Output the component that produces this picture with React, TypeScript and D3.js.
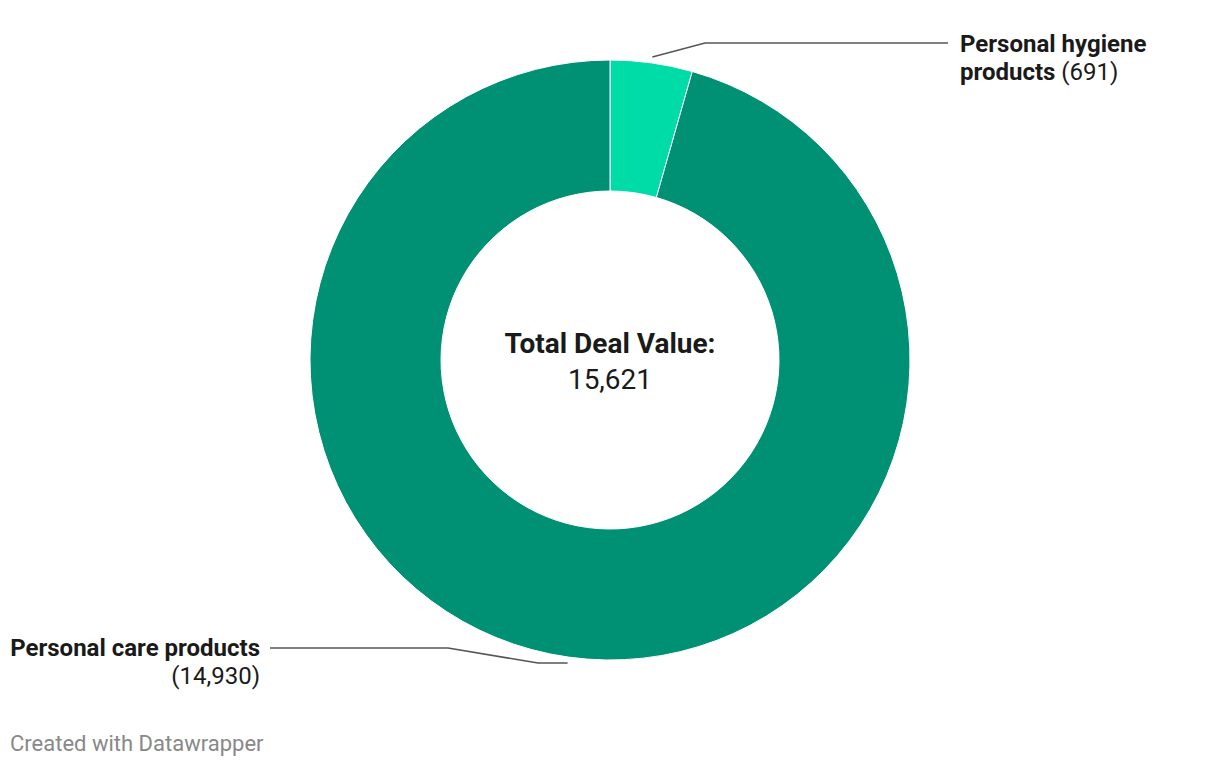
import React from "react";
import * as d3 from "d3";

const categories = ["Personal hygiene products", "Personal care products"];
const values = [691, 14930];
const colors = ["#00dca8", "#009073"];
const totalLabel = "Total Deal Value:";

const W = 1220, H = 766;
const cx = 610, cy = 360, R = 300, r = 169;

export default function App() {
  const pie = d3.pie<number>().sort(null).value((d) => d);
  const arcs = pie(values);
  const arcGen = d3.arc<d3.PieArcDatum<number>>().innerRadius(r).outerRadius(R);
  const total = d3.sum(values);
  const fmt = d3.format(",");
  const mid = (a: d3.PieArcDatum<number>) => (a.startAngle + a.endAngle) / 2;
  const pt = (ang: number, rad: number) => [cx + rad * Math.sin(ang), cy - rad * Math.cos(ang)];

  const a0 = arcs[0], a1 = arcs[1];
  const [h0x, h0y] = pt(mid(a0), 306);
  const [c0x, c0y] = pt(mid(a1), 306);

  const font = "Roboto, sans-serif";
  return (
    <svg width={W} height={H} style={{ position: "absolute", left: 0, top: 0, background: "#fff" }} fontFamily={font}>
      <g transform={`translate(${cx},${cy})`}>
        {arcs.map((a, i) => (
          <path key={i} d={arcGen(a) || ""} fill={colors[i]} stroke="#fff" strokeWidth={1} />
        ))}
      </g>
      {/* hygiene leader */}
      <polyline points={`${h0x},${h0y} ${705},43 948,43`} fill="none" stroke="#555" strokeWidth={1.5} />
      <text x={960} y={52} fontSize={24} fill="#1a1a1a">
        <tspan fontWeight={700}>Personal hygiene</tspan>
        <tspan x={960} dy={28} fontWeight={700}>products</tspan>
        <tspan fontWeight={400}> ({fmt(values[0])})</tspan>
      </text>
      {/* care leader */}
      <polyline points={`${c0x},${c0y} 538,${c0y} 448,648 270,648`} fill="none" stroke="#555" strokeWidth={1.5} />
      <text x={260} y={656} fontSize={24} fill="#1a1a1a" textAnchor="end" fontWeight={700}>{categories[1]}</text>
      <text x={260} y={684} fontSize={24} fill="#1a1a1a" textAnchor="end">({fmt(values[1])})</text>
      {/* center */}
      <text x={cx} y={353} fontSize={28} fontWeight={700} textAnchor="middle" fill="#1a1a1a">{totalLabel}</text>
      <text x={cx} y={389} fontSize={28} textAnchor="middle" fill="#1a1a1a">{fmt(total)}</text>
      <text x={10} y={751} fontSize={22} fill="#888">Created with Datawrapper</text>
    </svg>
  );
}
